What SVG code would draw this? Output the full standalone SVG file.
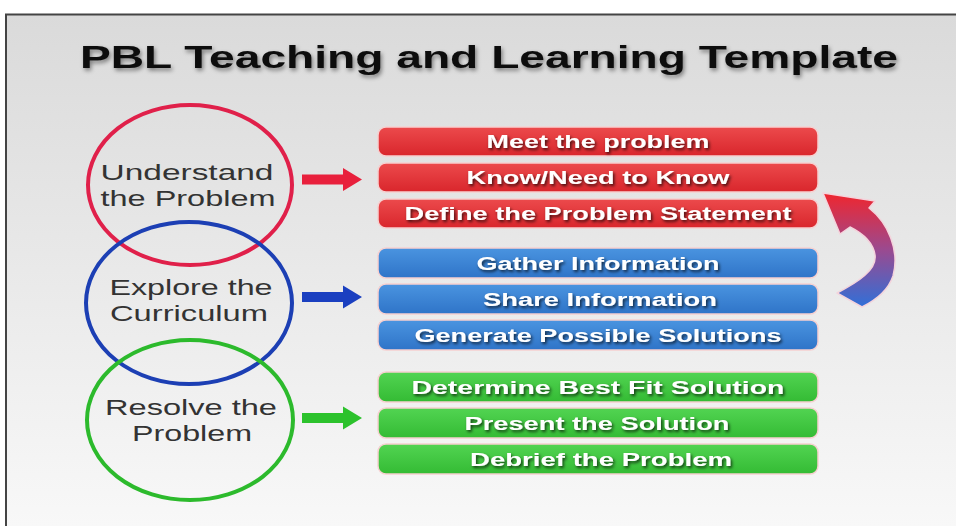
<svg xmlns="http://www.w3.org/2000/svg" width="956" height="526" viewBox="0 0 956 526">
<defs>
<linearGradient id="bg" x1="0" y1="0" x2="0" y2="1">
<stop offset="0" stop-color="#dadada"/>
<stop offset="0.5" stop-color="#e9e9e9"/>
<stop offset="1" stop-color="#f8f8f8"/>
</linearGradient>
<linearGradient id="gr" x1="0" y1="0" x2="0" y2="1">
<stop offset="0" stop-color="#ec4a4c"/>
<stop offset="1" stop-color="#d9262c"/>
</linearGradient>
<linearGradient id="gb" x1="0" y1="0" x2="0" y2="1">
<stop offset="0" stop-color="#4a94e0"/>
<stop offset="1" stop-color="#2f74c8"/>
</linearGradient>
<linearGradient id="gg" x1="0" y1="0" x2="0" y2="1">
<stop offset="0" stop-color="#52d452"/>
<stop offset="1" stop-color="#34bb34"/>
</linearGradient>
<linearGradient id="ga" x1="0" y1="0" x2="0" y2="1">
<stop offset="0" stop-color="#f0262e"/>
<stop offset="0.5" stop-color="#9a4a90"/>
<stop offset="1" stop-color="#3070d8"/>
</linearGradient>
<filter id="ts" x="-10%" y="-30%" width="120%" height="160%">
<feDropShadow dx="1.5" dy="2" stdDeviation="1.5" flood-color="#000" flood-opacity="0.7"/>
</filter>
<filter id="tt" x="-10%" y="-30%" width="120%" height="160%">
<feDropShadow dx="1.5" dy="2.5" stdDeviation="2" flood-color="#000" flood-opacity="0.45"/>
</filter>
</defs>
<style>
.title{font-family:"Liberation Sans",Arial,sans-serif;font-weight:bold;font-size:32px;fill:#111}
.ct{font-family:"Liberation Sans",Arial,sans-serif;font-size:22px;fill:#333;text-anchor:middle}
.bt{font-family:"Liberation Sans",Arial,sans-serif;font-weight:bold;font-size:18px;fill:#fff;text-anchor:middle}
.bar{stroke:#f6d0d0;stroke-width:1.5}
.ring{fill:none;stroke-width:4}
</style>
<rect x="0" y="0" width="956" height="526" fill="#ffffff"/>
<rect x="6" y="14" width="950" height="512" fill="url(#bg)"/>
<path d="M6 526 V14.5 H956" fill="none" stroke="#444" stroke-width="2"/>
<text class="title" x="80" y="68" textLength="818" lengthAdjust="spacingAndGlyphs" filter="url(#tt)">PBL Teaching and Learning Template</text>

<g id="understand">
<ellipse class="ring" cx="190" cy="185" rx="102" ry="80" stroke="#e0204a"/>
<text class="ct" x="187" y="180" textLength="173" lengthAdjust="spacingAndGlyphs">Understand</text>
<text class="ct" x="188" y="206" textLength="175" lengthAdjust="spacingAndGlyphs">the Problem</text>
</g>
<g id="explore">
<ellipse class="ring" cx="189" cy="303" rx="103" ry="81" stroke="#1c3fb4"/>
<text class="ct" x="191" y="295" textLength="163" lengthAdjust="spacingAndGlyphs">Explore the</text>
<text class="ct" x="189" y="321" textLength="158" lengthAdjust="spacingAndGlyphs">Curriculum</text>
</g>
<g id="resolve">
<ellipse class="ring" cx="190" cy="420" rx="103" ry="80" stroke="#2cba2c"/>
<text class="ct" x="191" y="415" textLength="172" lengthAdjust="spacingAndGlyphs">Resolve the</text>
<text class="ct" x="192" y="441" textLength="120" lengthAdjust="spacingAndGlyphs">Problem</text>
</g>

<g id="connectors">
<path d="M302 174.5 H343 V168 L362 179.5 L343 191 V184.5 H302 Z" fill="#e8203c"/>
<path d="M302 292 H343 V285.5 L362 297 L343 308.5 V302 H302 Z" fill="#1a3fc0"/>
<path d="M302 413 H343 V406.5 L362 418 L343 429.5 V423 H302 Z" fill="#2cc22c"/>
<path id="cycle" d="M823 193 L875 201 L869 208 C888 223 900 250 893 276 C888 291 876 300 862 307 L837 293 C858 282 877 270 875 255 C873 242 862 233 850 227 L840 234 Z" fill="url(#ga)" stroke="#f4d4dc" stroke-width="1.5" stroke-linejoin="round"/>
</g>

<g id="step1"><rect class="bar" x="378" y="127" width="440" height="29" rx="8" fill="url(#gr)"/><text class="bt" x="598" y="148" textLength="223" lengthAdjust="spacingAndGlyphs" filter="url(#ts)">Meet the problem</text></g>
<g id="step2"><rect class="bar" x="378" y="163" width="440" height="29" rx="8" fill="url(#gr)"/><text class="bt" x="598" y="184" textLength="263" lengthAdjust="spacingAndGlyphs" filter="url(#ts)">Know/Need to Know</text></g>
<g id="step3"><rect class="bar" x="378" y="199" width="440" height="29" rx="8" fill="url(#gr)"/><text class="bt" x="598" y="220" textLength="387" lengthAdjust="spacingAndGlyphs" filter="url(#ts)">Define the Problem Statement</text></g>

<g id="step4"><rect class="bar" x="378" y="248" width="440" height="30" rx="8" fill="url(#gb)" stroke="#cfe2f6"/><text class="bt" x="598" y="270" textLength="243" lengthAdjust="spacingAndGlyphs" filter="url(#ts)">Gather Information</text></g>
<g id="step5"><rect class="bar" x="378" y="284" width="440" height="30" rx="8" fill="url(#gb)" stroke="#cfe2f6"/><text class="bt" x="600" y="306" textLength="234" lengthAdjust="spacingAndGlyphs" filter="url(#ts)">Share Information</text></g>
<g id="step6"><rect class="bar" x="378" y="320" width="440" height="30" rx="8" fill="url(#gb)" stroke="#cfe2f6"/><text class="bt" x="598" y="342" textLength="367" lengthAdjust="spacingAndGlyphs" filter="url(#ts)">Generate Possible Solutions</text></g>

<g id="step7"><rect class="bar" x="378" y="372" width="440" height="30" rx="8" fill="url(#gg)" stroke="#d2f2d2"/><text class="bt" x="598" y="394" textLength="373" lengthAdjust="spacingAndGlyphs" filter="url(#ts)">Determine Best Fit Solution</text></g>
<g id="step8"><rect class="bar" x="378" y="408" width="440" height="30" rx="8" fill="url(#gg)" stroke="#d2f2d2"/><text class="bt" x="597" y="430" textLength="265" lengthAdjust="spacingAndGlyphs" filter="url(#ts)">Present the Solution</text></g>
<g id="step9"><rect class="bar" x="378" y="444" width="440" height="30" rx="8" fill="url(#gg)" stroke="#d2f2d2"/><text class="bt" x="601" y="466" textLength="262" lengthAdjust="spacingAndGlyphs" filter="url(#ts)">Debrief the Problem</text></g>
</svg>
